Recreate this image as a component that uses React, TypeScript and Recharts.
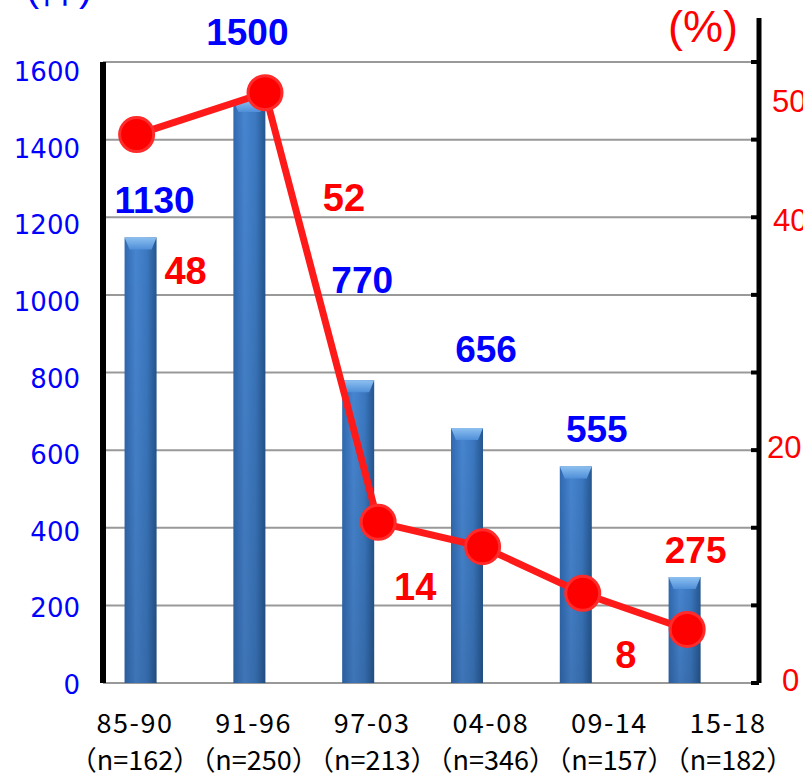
import {
  ComposedChart, Bar, Line, XAxis, YAxis, CartesianGrid, LabelList, Label,
} from "recharts";

const periods = ["85-90", "91-96", "97-03", "04-08", "09-14", "15-18"];
const sampleSizes = ["（n=162）", "（n=250）", "（n=213）", "（n=346）", "（n=157）", "（n=182）"];
const caseCounts = [1148, 1502, 780, 657, 558, 273];
const caseLabels = ["1130", "1500", "770", "656", "555", "275"];
const rateValues = [47.1, 50.7, 13.8, 11.7, 7.7, 4.6];
const rateLabels = ["48", "52", "14", "", "8", ""];
// where each rate point sits along the period axis (bars sit at 1..6)
const ratePositions = [0.96, 2.14, 3.18, 4.14, 5.06, 6.02];
const leftTicks = [0, 200, 400, 600, 800, 1000, 1200, 1400, 1600];
const rightTickLabels = [0, 20, 40, 50];

const W = 803;
const H = 777;
const X_DOMAIN = [0.651, 6.68];
const RIGHT_MAX = 160 / 3;
const SANS = "'Liberation Sans', Arial, sans-serif";
const JP = "'Noto Sans CJK JP', sans-serif";

const barData = caseCounts.map((c, i) => ({ x: i + 1, cases: c }));
const rateData = rateValues.map((r, i) => ({ x: ratePositions[i], rate: r }));
const rightGrid = leftTicks.map((v) => (v / 1600) * RIGHT_MAX);
const rightTicks = [...rightGrid, 50];
const periodTickAt = periods.map((_, i) => 0.945 + 1.09 * i);

// label nudges (dx, dy) relative to bar top centre / rate point
const barLabelShift = [[14, -24], [-2, -55], [4, -87], [19, -66], [21, -24], [11, -14]];
const barLabelColor = ["#0000ff", "#0000ff", "#0000ff", "#0000ff", "#0000ff", "#ff0000"];
const rateLabelShift = [[49, 149], [79, 118], [37, 78], [0, 0], [43, 75], [0, 0]];
const rightLabelShift: Record<number, [number, number]> = {
  0: [23, -3], 20: [8, -3], 40: [14, 3], 50: [13, 1],
};

const near = (a: number, b: number) => Math.abs(a - b) < 1e-6;

function BarShape(props: any) {
  const { x, y, width, height } = props;
  if (!height || height <= 0) return null;
  return (
    <g>
      <rect x={x} y={y} width={width} height={height} fill="url(#barBody)" />
      <rect x={x} y={y} width={width} height={height} fill="url(#barShade)" />
      <path
        d={`M${x},${y} H${x + width} L${x + width - 5},${y + 12} H${x + 5} Z`}
        fill="url(#barCap)"
      />
    </g>
  );
}

function LeftTick({ x, y, payload }: any) {
  const v = payload.value;
  return (
    <text x={x} y={y + 2 + v / 200} textAnchor="end" dominantBaseline="central"
      fill="#0000ff" fontSize={26} fontFamily="'DejaVu Sans', sans-serif">
      {v}
    </text>
  );
}

function RightTick({ x, y, payload }: any) {
  const v = payload.value;
  const onGrid = rightGrid.some((g) => near(g, v));
  const label = rightTickLabels.find((l) => near(l, v));
  const shift = label !== undefined ? rightLabelShift[label] : [0, 0];
  return (
    <g>
      {onGrid && <line x1={x - 8} x2={x} y1={y} y2={y} stroke="#000" strokeWidth={4} />}
      {label !== undefined && (
        <text x={x + shift[0]} y={y + shift[1]} dominantBaseline="central"
          fill="#ff0000" fontSize={31} fontFamily={SANS}>
          {label}
        </text>
      )}
    </g>
  );
}

function PeriodTick({ x, y, index }: any) {
  return (
    <g fontFamily={JP} fontSize={27} fill="#000" textAnchor="middle">
      <text x={x} y={y + 50} letterSpacing={1.5}>{periods[index]}</text>
      <text x={x} y={y + 87}>{sampleSizes[index]}</text>
    </g>
  );
}

function CaseLabel(props: any) {
  const vb = props.viewBox || props;
  const i = props.index;
  const cx = vb.x + vb.width / 2 + barLabelShift[i][0];
  const ty = vb.y + barLabelShift[i][1];
  return (
    <text x={cx} y={ty} textAnchor="middle" fill={barLabelColor[i]}
      fontSize={37} fontWeight="bold" fontFamily={SANS}>
      {caseLabels[i]}
    </text>
  );
}

function RateLabel(props: any) {
  const i = props.index;
  if (!rateLabels[i]) return null;
  const px = props.x ?? props.viewBox?.x;
  const py = props.y ?? props.viewBox?.y;
  return (
    <text x={px + rateLabelShift[i][0]} y={py + rateLabelShift[i][1]} textAnchor="middle"
      fill="#ff0000" fontSize={38} fontWeight="bold" fontFamily={SANS}>
      {rateLabels[i]}
    </text>
  );
}

export default function App() {
  return (
    <div style={{ position: "absolute", left: 0, top: 0, width: W, height: H, background: "#fff" }}>
      <ComposedChart width={W} height={H} data={barData}
        margin={{ top: 62, right: 0, bottom: 0, left: 0 }}>
        <defs>
          <linearGradient id="barBody" x1="0" y1="0" x2="1" y2="0">
            <stop offset="0%" stopColor="#3069b0" />
            <stop offset="35%" stopColor="#4785d0" />
            <stop offset="70%" stopColor="#3b78c0" />
            <stop offset="100%" stopColor="#25568f" />
          </linearGradient>
          <linearGradient id="barShade" x1="0" y1="0" x2="0" y2="1">
            <stop offset="0%" stopColor="#000" stopOpacity={0} />
            <stop offset="100%" stopColor="#000" stopOpacity={0.12} />
          </linearGradient>
          <linearGradient id="barCap" x1="0" y1="0" x2="0" y2="1">
            <stop offset="0%" stopColor="#8cc0f0" />
            <stop offset="100%" stopColor="#4f8ed8" />
          </linearGradient>
        </defs>
        <CartesianGrid xAxisId="period" yAxisId="left" vertical={false} stroke="#999" strokeWidth={2} />
        <XAxis xAxisId="period" type="number" dataKey="x" domain={X_DOMAIN} allowDataOverflow
          ticks={periodTickAt} interval={0} tick={<PeriodTick />}
          axisLine={false} tickLine={false} tickSize={0} tickMargin={0} height={94} />
        <XAxis xAxisId="rate" type="number" dataKey="x" domain={X_DOMAIN} allowDataOverflow
          hide height={0} />
        <YAxis yAxisId="left" domain={[0, 1600]} ticks={leftTicks} interval={0}
          width={103} tickSize={0} tickMargin={23} tick={<LeftTick />} tickLine={false}
          axisLine={{ stroke: "#000", strokeWidth: 6 }}>
          <Label content={() => (
            <text x={59} y={1} textAnchor="middle" fill="#0000ff" fontSize={40} fontFamily={SANS}>
              (件)
            </text>
          )} />
        </YAxis>
        <YAxis yAxisId="right" orientation="right" domain={[0, RIGHT_MAX]} allowDataOverflow
          ticks={rightTicks} interval={0} width={44} tickSize={0} tickMargin={0}
          tick={<RightTick />} tickLine={false}
          axisLine={{ stroke: "#000", strokeWidth: 5 }}>
          <Label content={(p: any) => {
            const ax = p.viewBox?.x ?? 759;
            const top = p.viewBox?.y ?? 62;
            return (
              <g>
                <line x1={ax} x2={ax} y1={18} y2={top} stroke="#000" strokeWidth={5} />
                <text x={703} y={42} textAnchor="middle" fill="#ff0000" fontSize={45} fontFamily={SANS}>
                  (%)
                </text>
              </g>
            );
          }} />
        </YAxis>
        <Bar xAxisId="period" yAxisId="left" dataKey="cases" barSize={32} shape={<BarShape />}
          isAnimationActive={false}>
          <LabelList dataKey="cases" content={<CaseLabel />} />
        </Bar>
        <Line xAxisId="rate" yAxisId="right" data={rateData} dataKey="rate" stroke="#ff1a1a"
          strokeWidth={7} dot={{ r: 17, fill: "#ff0000", stroke: "#ff2b2b", strokeWidth: 3 }}
          activeDot={false} isAnimationActive={false}>
          <LabelList dataKey="rate" content={<RateLabel />} />
        </Line>
      </ComposedChart>
    </div>
  );
}
